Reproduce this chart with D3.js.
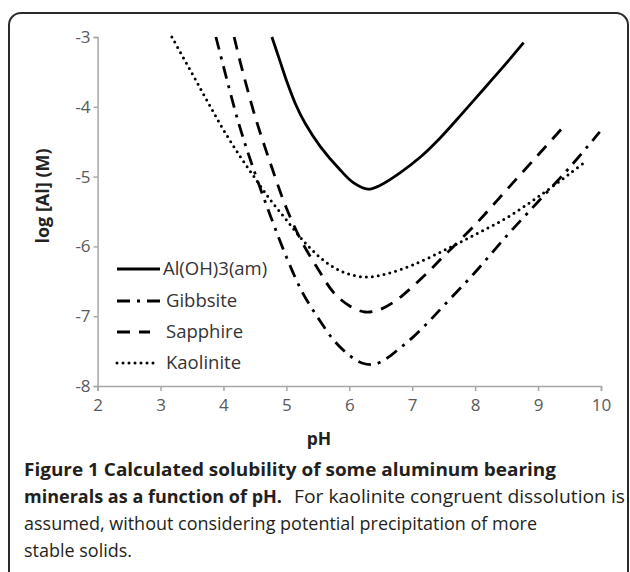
<!DOCTYPE html>
<html>
<head>
<meta charset="utf-8">
<script src="https://cdn.jsdelivr.net/npm/d3@7"></script>
<style>
  html, body { margin: 0; padding: 0; background: #fff; }
  svg { display: block; }
</style>
</head>
<body>
<svg id="chart" width="630" height="572"></svg>
<script>
// ---- data ----
const seriesNames = ["Al(OH)3(am)", "Gibbsite", "Sapphire", "Kaolinite"];

const pHAlOH3 = [4.77, 4.9, 5.0, 5.15, 5.3, 5.54, 5.86, 6.07, 6.3, 6.5, 6.8, 7.13, 7.44, 7.8, 8.2, 8.5, 8.77];
const logAlOH3 = [-3.0, -3.35, -3.62, -3.97, -4.24, -4.57, -4.91, -5.09, -5.18, -5.12, -4.95, -4.72, -4.45, -4.09, -3.68, -3.37, -3.08];

const pHGibbsite = [3.88, 4.0, 4.25, 4.5, 4.75, 5.0, 5.25, 5.5, 5.75, 6.0, 6.2, 6.4, 6.6, 6.8, 7.0, 7.25, 7.5, 8.0, 8.5, 9.0, 9.5, 9.98];
const logGibbsite = [-3.0, -3.42, -4.26, -4.95, -5.57, -6.15, -6.65, -7.02, -7.34, -7.56, -7.67, -7.69, -7.60, -7.46, -7.31, -7.09, -6.85, -6.37, -5.85, -5.36, -4.87, -4.36];

const pHSapphire = [4.17, 4.25, 4.5, 4.75, 5.0, 5.25, 5.5, 5.75, 6.0, 6.25, 6.5, 6.75, 7.0, 7.25, 7.5, 8.0, 8.5, 9.0, 9.38];
const logSapphire = [-3.0, -3.3, -4.13, -4.82, -5.45, -5.94, -6.32, -6.66, -6.85, -6.94, -6.90, -6.77, -6.58, -6.37, -6.14, -5.69, -5.19, -4.69, -4.31];

const pHKaolinite = [3.18, 3.5, 3.75, 4.0, 4.25, 4.5, 4.75, 5.0, 5.25, 5.5, 5.75, 6.0, 6.3, 6.6, 7.0, 7.5, 8.0, 8.5, 9.0, 9.5, 9.76];
const logKaolinite = [-3.0, -3.52, -3.93, -4.33, -4.69, -5.02, -5.34, -5.62, -5.90, -6.13, -6.30, -6.40, -6.44, -6.39, -6.27, -6.06, -5.83, -5.59, -5.29, -4.96, -4.78];

const xTicks = [2, 3, 4, 5, 6, 7, 8, 9, 10];
const yTicks = [-8, -7, -6, -5, -4, -3];

const xTitle = "pH";
const yTitle = "log [Al] (M)";
const captionBold1 = "Figure 1 Calculated solubility of some aluminum bearing";
const captionBold2 = "minerals as a function of pH.";
const captionNormal2 = "For kaolinite congruent dissolution is";
const captionNormal3 = "assumed, without considering potential precipitation of more";
const captionNormal4 = "stable solids.";

// ---- build ----
const series = [
  { name: seriesNames[0], x: pHAlOH3, y: logAlOH3, dash: null, cap: "butt" },
  { name: seriesNames[1], x: pHGibbsite, y: logGibbsite, dash: "13,7,3,7", cap: "butt" },
  { name: seriesNames[2], x: pHSapphire, y: logSapphire, dash: "13,9", cap: "butt" },
  { name: seriesNames[3], x: pHKaolinite, y: logKaolinite, dash: "0,6", cap: "round" }
];

const svg = d3.select("#chart");
const font = "'Open Sans', 'Noto Sans', sans-serif";

// frame
svg.append("rect")
  .attr("x", 9).attr("y", 13)
  .attr("width", 619).attr("height", 620)
  .attr("rx", 12).attr("ry", 12)
  .attr("fill", "none").attr("stroke", "#2a2a2a").attr("stroke-width", 2);

const x = d3.scaleLinear().domain([2, 10]).range([97.6, 601]);
const y = d3.scaleLinear().domain([-8, -3]).range([386, 37]);

const axisColor = "#a6a6a6";
const tickTextColor = "#595959";

// x axis
const gx = svg.append("g").attr("transform", `translate(0,${y(-8)})`)
  .call(d3.axisBottom(x).tickValues(xTicks).tickFormat(d3.format("d")).tickSizeOuter(0).tickSize(5).tickPadding(8));
// y axis
const gy = svg.append("g").attr("transform", `translate(${x(2)},0)`)
  .call(d3.axisLeft(y).tickValues(yTicks).tickFormat(d => d < 0 ? "-" + Math.abs(d) : d).tickSizeOuter(0).tickSize(4).tickPadding(3));

[gx, gy].forEach(g => {
  g.select(".domain").attr("stroke", axisColor).attr("stroke-width", 1.5);
  g.selectAll(".tick line").attr("stroke", axisColor).attr("stroke-width", 1.5);
  g.selectAll(".tick text").attr("fill", tickTextColor)
    .style("font-family", font).style("font-size", "17px");
});

// axis titles
svg.append("text")
  .attr("x", 319).attr("y", 445)
  .attr("text-anchor", "middle")
  .style("font-family", font).style("font-size", "17.5px").style("font-weight", "bold")
  .attr("fill", "#222").text(xTitle);

svg.append("text")
  .attr("transform", "translate(49,196) rotate(-90)")
  .attr("text-anchor", "middle")
  .style("font-family", font).style("font-size", "18px").style("font-weight", "bold")
  .attr("fill", "#222").text(yTitle);

// curves
const line = d3.line()
  .x(d => x(d[0])).y(d => y(d[1]))
  .curve(d3.curveCatmullRom.alpha(0.5));

series.forEach(s => {
  const pts = s.x.map((v, i) => [v, s.y[i]]);
  svg.append("path")
    .datum(pts)
    .attr("d", line)
    .attr("fill", "none")
    .attr("stroke", "#000")
    .attr("stroke-width", s.cap === "round" ? 3 : 2.8)
    .attr("stroke-linecap", s.cap)
    .attr("stroke-dasharray", s.dash);
});

// legend
const legendX0 = 117;
const legendEnds = [160, 161, 150, 154];
const legendYs = [269, 301, 332, 363];
series.forEach((s, i) => {
  const yy = legendYs[i];
  svg.append("line")
    .attr("x1", legendX0).attr("x2", legendEnds[i])
    .attr("y1", yy).attr("y2", yy)
    .attr("stroke", "#000")
    .attr("stroke-width", s.cap === "round" ? 3 : 2.8)
    .attr("stroke-linecap", s.cap)
    .attr("stroke-dasharray", s.dash);
  svg.append("text")
    .attr("x", i === 0 ? 163 : 166).attr("y", yy)
    .attr("dy", "0.35em")
    .style("font-family", font).style("font-size", "18.5px")
    .attr("fill", "#333").text(s.name);
});

// caption
const capStyle = (t, bold) => t.style("font-family", font).style("font-size", "18.5px")
  .style("font-weight", bold ? "bold" : "normal").attr("fill", "#231f20")
  .attr("lengthAdjust", "spacingAndGlyphs");

capStyle(svg.append("text").attr("x", 24).attr("y", 476).attr("textLength", 532).text(captionBold1), true);
capStyle(svg.append("text").attr("x", 24).attr("y", 503).attr("textLength", 258).text(captionBold2), true);
capStyle(svg.append("text").attr("x", 294).attr("y", 503).attr("textLength", 331).text(captionNormal2), false);
capStyle(svg.append("text").attr("x", 24).attr("y", 530).attr("textLength", 513).text(captionNormal3), false);
capStyle(svg.append("text").attr("x", 24).attr("y", 557).attr("textLength", 108).text(captionNormal4), false);
</script>
</body>
</html>
